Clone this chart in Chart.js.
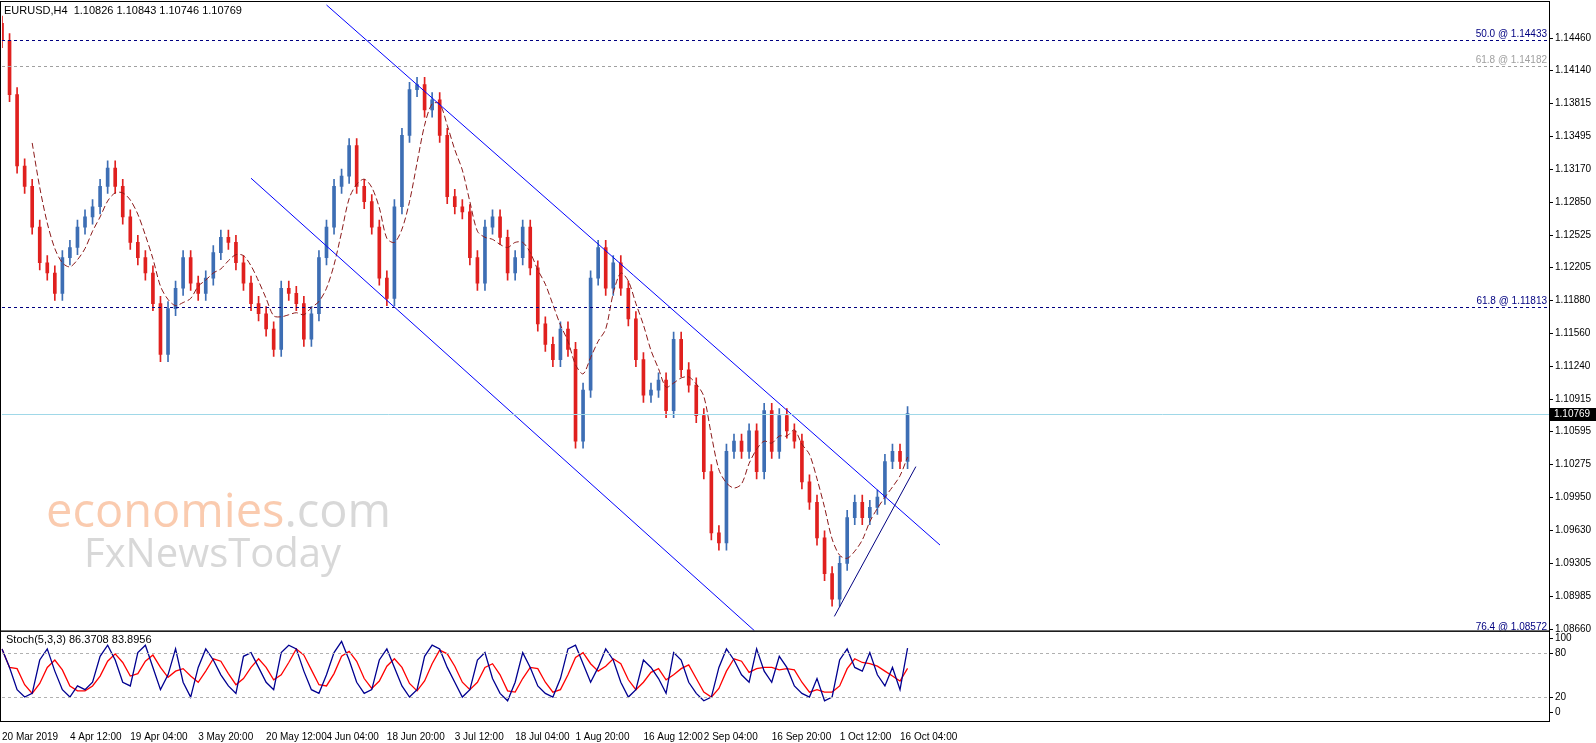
<!DOCTYPE html><html><head><meta charset="utf-8">
<script src="https://cdn.jsdelivr.net/npm/chart.js@4"></script>
<style>body{margin:0;background:#fff}canvas{display:block}</style></head><body>
<canvas id="c" width="1596" height="743"></canvas>
<script>
const closes=[1.1443,1.1390,1.1320,1.1300,1.1260,1.1225,1.1215,1.1195,1.1230,1.1240,1.1260,1.1270,1.1280,1.1300,1.1318,1.1300,1.1270,1.1245,1.1230,1.1215,1.1185,1.1135,1.1180,1.1200,1.1230,1.1205,1.1195,1.1210,1.1235,1.1250,1.1245,1.1225,1.1205,1.1185,1.1175,1.1160,1.1140,1.1200,1.1195,1.1185,1.1150,1.1175,1.1230,1.1260,1.1300,1.1310,1.1340,1.1300,1.1285,1.1260,1.1210,1.1190,1.1280,1.1350,1.1395,1.1400,1.1375,1.1385,1.1350,1.1290,1.1280,1.1275,1.1230,1.1205,1.1260,1.1270,1.1250,1.1215,1.1230,1.1260,1.1220,1.1165,1.1145,1.1130,1.1160,1.1140,1.1050,1.1100,1.1210,1.1240,1.1200,1.1225,1.1200,1.1170,1.1130,1.1095,1.1100,1.1110,1.1080,1.1150,1.1120,1.1105,1.1075,1.1020,1.0960,1.0950,1.1040,1.1050,1.1040,1.1060,1.1020,1.1080,1.1040,1.1075,1.1060,1.1050,1.1010,1.0990,1.0955,1.0920,1.0895,1.0930,1.0975,1.0990,1.0975,1.0985,1.0995,1.1030,1.1040,1.1030,1.1077];
const stoch=[85,60,30,20,25,70,85,55,30,20,35,30,40,75,90,70,40,35,80,90,60,30,50,85,40,20,60,85,70,50,35,25,75,80,60,40,30,80,90,85,55,30,25,50,80,95,70,40,25,30,70,85,60,35,20,30,75,90,85,60,40,20,30,70,80,45,25,15,40,80,60,35,25,20,45,85,90,65,40,60,85,70,40,20,30,70,60,45,25,80,70,40,25,15,20,60,85,70,50,40,85,55,40,75,60,35,25,20,45,15,20,70,85,60,55,80,50,35,60,30,86];
const dateLabels={0:'20 Mar 2019',9:'4 Apr 12:00',17:'19 Apr 04:00',26:'3 May 20:00',35:'20 May 12:00',43:'4 Jun 04:00',51:'18 Jun 20:00',60:'3 Jul 12:00',68:'18 Jul 04:00',76:'1 Aug 20:00',85:'16 Aug 12:00',93:'2 Sep 04:00',102:'16 Sep 20:00',111:'1 Oct 12:00',119:'16 Oct 04:00'};
const priceTicks=[1.14460,1.14140,1.13815,1.13495,1.13170,1.12850,1.12525,1.12205,1.11880,1.11560,1.11240,1.10915,1.10595,1.10275,1.09950,1.09630,1.09305,1.08985,1.08660];
const stochTicks=[0,20,80,100];
const N=206;
const labels=[...Array(N).keys()];
const opens=closes.map((c,i)=>i?closes[i-1]:1.1460);
const bodies=closes.map((c,i)=>[opens[i],c]);
const wicks=closes.map((c,i)=>[Math.min(opens[i],c)-0.0007,Math.max(opens[i],c)+0.0007]);
const col=closes.map((c,i)=>c>=opens[i]?'#3d6eb4':'#e0201e');
const ma=closes.map((c,i)=>{if(i<4)return null;let s=0;for(let k=i-4;k<=i;k++)s+=closes[k];return s/5;});
const sig=stoch.map((v,i)=>{if(i<2)return v;return (stoch[i]+stoch[i-1]+stoch[i-2])/3;});
const F='"Liberation Sans", Arial, sans-serif';
const over={id:'over',afterDatasetsDraw(ch){const c=ch.ctx,x=ch.scales.x,y=ch.scales.y,y2=ch.scales.y2,a=ch.chartArea;
 const X=i=>x.getPixelForValue(i);
 c.save();c.beginPath();c.rect(a.left,y.top,a.right-a.left,y.bottom-y.top);c.clip();
 function L(i1,p1,i2,p2,cl,w){c.strokeStyle=cl;c.lineWidth=w||1;c.setLineDash([]);c.beginPath();c.moveTo(X(i1),y.getPixelForValue(p1));c.lineTo(X(i2),y.getPixelForValue(p2));c.stroke();}
 L(43,1.1478,124.3,1.0948,'#0000ff');L(33,1.1308,99.7,1.0864,'#0000ff');L(110.3,1.0878,121.1,1.1025,'#000080');
 function H(p,cl,d){c.strokeStyle=cl;c.lineWidth=1;c.setLineDash(d);c.beginPath();const yy=Math.round(y.getPixelForValue(p))+0.5;c.moveTo(a.left,yy);c.lineTo(a.right,yy);c.stroke();}
 H(1.14433,'#000080',[3,3]);H(1.14182,'#a0a0a0',[3,3]);H(1.11813,'#000080',[3,3]);H(1.10769,'#a0d8e8',[]);H(1.0857,'#000080',[3,3]);
 c.setLineDash([]);c.font='10px '+F;c.textAlign='right';c.textBaseline='bottom';
 c.fillStyle='#000080';c.fillText('50.0 @ 1.14433',a.right-2,y.getPixelForValue(1.14433)-1);
 c.fillStyle='#a0a0a0';c.fillText('61.8 @ 1.14182',a.right-2,y.getPixelForValue(1.14182)-1);
 c.fillStyle='#000080';c.fillText('61.8 @ 1.11813',a.right-2,y.getPixelForValue(1.11813)-1);
 c.fillText('76.4 @ 1.08572',a.right-2,y.bottom+2);
 c.textAlign='left';c.textBaseline='alphabetic';
 c.font='47px "Open Sans", sans-serif';c.fillStyle='rgba(245,160,110,0.55)';c.fillText('economies',46,527);
 const w=c.measureText('economies').width;c.fillStyle='rgba(190,190,190,0.6)';c.fillText('.com',46+w,527);
 c.font='40px "Open Sans", sans-serif';c.fillText('FxNewsToday',84,567);
 c.restore();
 c.save();c.strokeStyle='#b0b0b0';c.setLineDash([3,3]);
 [20,80].forEach(v=>{const yy=Math.round(y2.getPixelForValue(v))+0.5;c.beginPath();c.moveTo(a.left,yy);c.lineTo(a.right,yy);c.stroke();});
 c.setLineDash([]);c.strokeStyle='#000';c.lineWidth=1;
 c.strokeRect(0.5,y.top+0.5,a.right,y.bottom-y.top);c.strokeRect(0.5,y2.top+0.5,a.right,y2.bottom-y2.top);
 c.font='10px '+F;c.fillStyle='#000';c.textBaseline='middle';c.textAlign='left';
 priceTicks.forEach(v=>{const yy=Math.round(y.getPixelForValue(v))+0.5;c.beginPath();c.moveTo(a.right,yy);c.lineTo(a.right+4,yy);c.stroke();c.fillText(v.toFixed(5),a.right+6,yy);});
 stochTicks.forEach(v=>{const yy=Math.round(y2.getPixelForValue(v))+0.5;c.beginPath();c.moveTo(a.right,yy);c.lineTo(a.right+4,yy);c.stroke();c.fillText(String(v),a.right+6,yy);});
 c.font='11px '+F;c.textBaseline='top';
 c.fillText('EURUSD,H4  1.10826 1.10843 1.10746 1.10769',4,y.top+4);
 c.fillText('Stoch(5,3,3) 86.3708 83.8956',6,y2.top+4);
 const py=Math.round(y.getPixelForValue(1.10769));c.fillStyle='#000';c.fillRect(a.right+1,py-6,50,13);
 c.fillStyle='#fff';c.textBaseline='middle';c.font='10px '+F;c.fillText('1.10769',a.right+5,py+0.5);
 c.restore();}};
new Chart(document.getElementById('c'),{data:{labels,datasets:[
 {type:'bar',data:wicks,backgroundColor:col,barThickness:1,yAxisID:'y',grouped:false,order:3},
 {type:'bar',data:bodies,backgroundColor:col,barThickness:3,minBarLength:1,yAxisID:'y',grouped:false,order:2},
 {type:'line',data:ma,borderColor:'#8b1a1a',borderDash:[6,3],borderWidth:1,pointRadius:0,yAxisID:'y',tension:0.3,order:1},
 {type:'line',data:stoch,borderColor:'#000090',borderWidth:1.3,pointRadius:0,yAxisID:'y2'},
 {type:'line',data:sig,borderColor:'#ff0000',borderWidth:1.3,pointRadius:0,yAxisID:'y2'}]},
 options:{responsive:false,devicePixelRatio:1,animation:false,layout:{padding:{top:1,left:0,right:0,bottom:0}},
 plugins:{legend:{display:false},tooltip:{enabled:false}},
 scales:{x:{type:'category',offset:false,grid:{display:false},border:{display:false},
  ticks:{autoSkip:false,maxRotation:0,align:'start',font:{size:10,family:F},color:'#000',padding:2,callback:(v,i)=>dateLabels[i]||''},
  afterFit:s=>{s.height=22;}},
 y:{position:'right',stack:'s',stackWeight:6.97,offset:false,min:1.0864,max:1.14819,grid:{display:false},border:{color:'#000'},
  afterFit:s=>{s.width=47;},ticks:{display:false}},
 y2:{position:'right',stack:'s',stackWeight:1,offset:false,min:-12.3,max:109.6,grid:{display:false},border:{color:'#000'},
  afterFit:s=>{s.width=47;},ticks:{display:false}}}},
 plugins:[over]});
</script></body></html>
